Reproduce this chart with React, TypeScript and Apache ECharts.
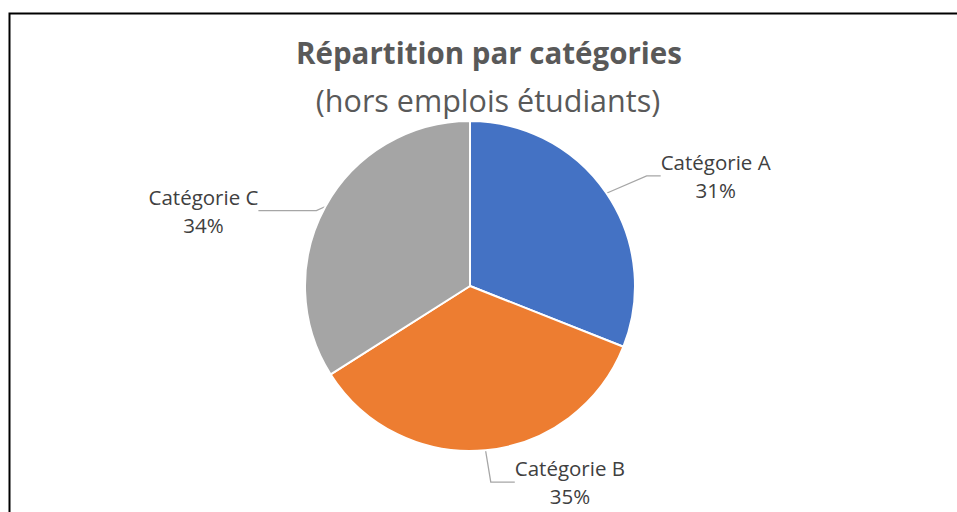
import React, { useEffect, useRef } from "react";
import * as echarts from "echarts";

const categories = ["Catégorie A", "Catégorie B", "Catégorie C"];
const values = [31, 35, 34];
const colors = ["#4472C4", "#ED7D31", "#A5A5A5"];
const leaderLengths = [
  [45, 14],
  [24, 24],
  [8, 58],
];
const titleText = "Répartition par catégories";
const subtitleText = "(hors emplois étudiants)";

export default function App() {
  const ref = useRef<HTMLDivElement>(null);
  useEffect(() => {
    if (!ref.current) return;
    const chart = echarts.init(ref.current, undefined, { renderer: "svg" });
    const font = "'Open Sans', sans-serif";
    const cx = 470;
    chart.setOption({
      animation: false,
      backgroundColor: "#ffffff",
      graphic: [
        {
          type: "text",
          x: 489,
          y: 52,
          style: {
            text: titleText,
            font: `bold 29.5px ${font}`,
            fill: "#595959",
            align: "center",
            verticalAlign: "middle",
          },
        },
        {
          type: "text",
          x: 488,
          y: 100,
          style: {
            text: subtitleText,
            font: `30.5px ${font}`,
            fill: "#595959",
            align: "center",
            verticalAlign: "middle",
          },
        },
        {
          type: "rect",
          shape: { x: 9.5, y: 13.5, width: 1000, height: 600 },
          style: { fill: "none", stroke: "#000", lineWidth: 2 },
          z: 100,
        },
      ],
      series: [
        {
          type: "pie",
          center: [cx, 286],
          radius: [0, 165],
          startAngle: 90,
          clockwise: true,
          itemStyle: { borderColor: "#fff", borderWidth: 2 },
          label: {
            show: true,
            position: "outside",
            formatter: "{b}\n{d}%",
            fontFamily: font,
            fontSize: 20.5,
            lineHeight: 28,
            color: "#404040",
          },
          labelLine: { show: true, lineStyle: { color: "#A6A6A6", width: 1.3 } },
          labelLayout: (params: any) => {
            const pts = params.labelLinePoints;
            if (!pts) return {};
            const end = pts[pts.length - 1];
            const w = params.labelRect.width;
            const right = end[0] > cx;
            return {
              x: right ? end[0] + 3 + w / 2 : end[0] - 2 - w / 2,
              y: end[1] + 8,
              align: "center",
              verticalAlign: "middle",
            };
          },
          data: categories.map((c, i) => ({
            name: c,
            value: values[i],
            itemStyle: { color: colors[i] },
            labelLine: { length: leaderLengths[i][0], length2: leaderLengths[i][1] },
          })),
        },
      ],
    });
    return () => chart.dispose();
  }, []);
  return (
    <div
      ref={ref}
      style={{ position: "fixed", left: 0, top: 0, width: 957, height: 512 }}
    />
  );
}
